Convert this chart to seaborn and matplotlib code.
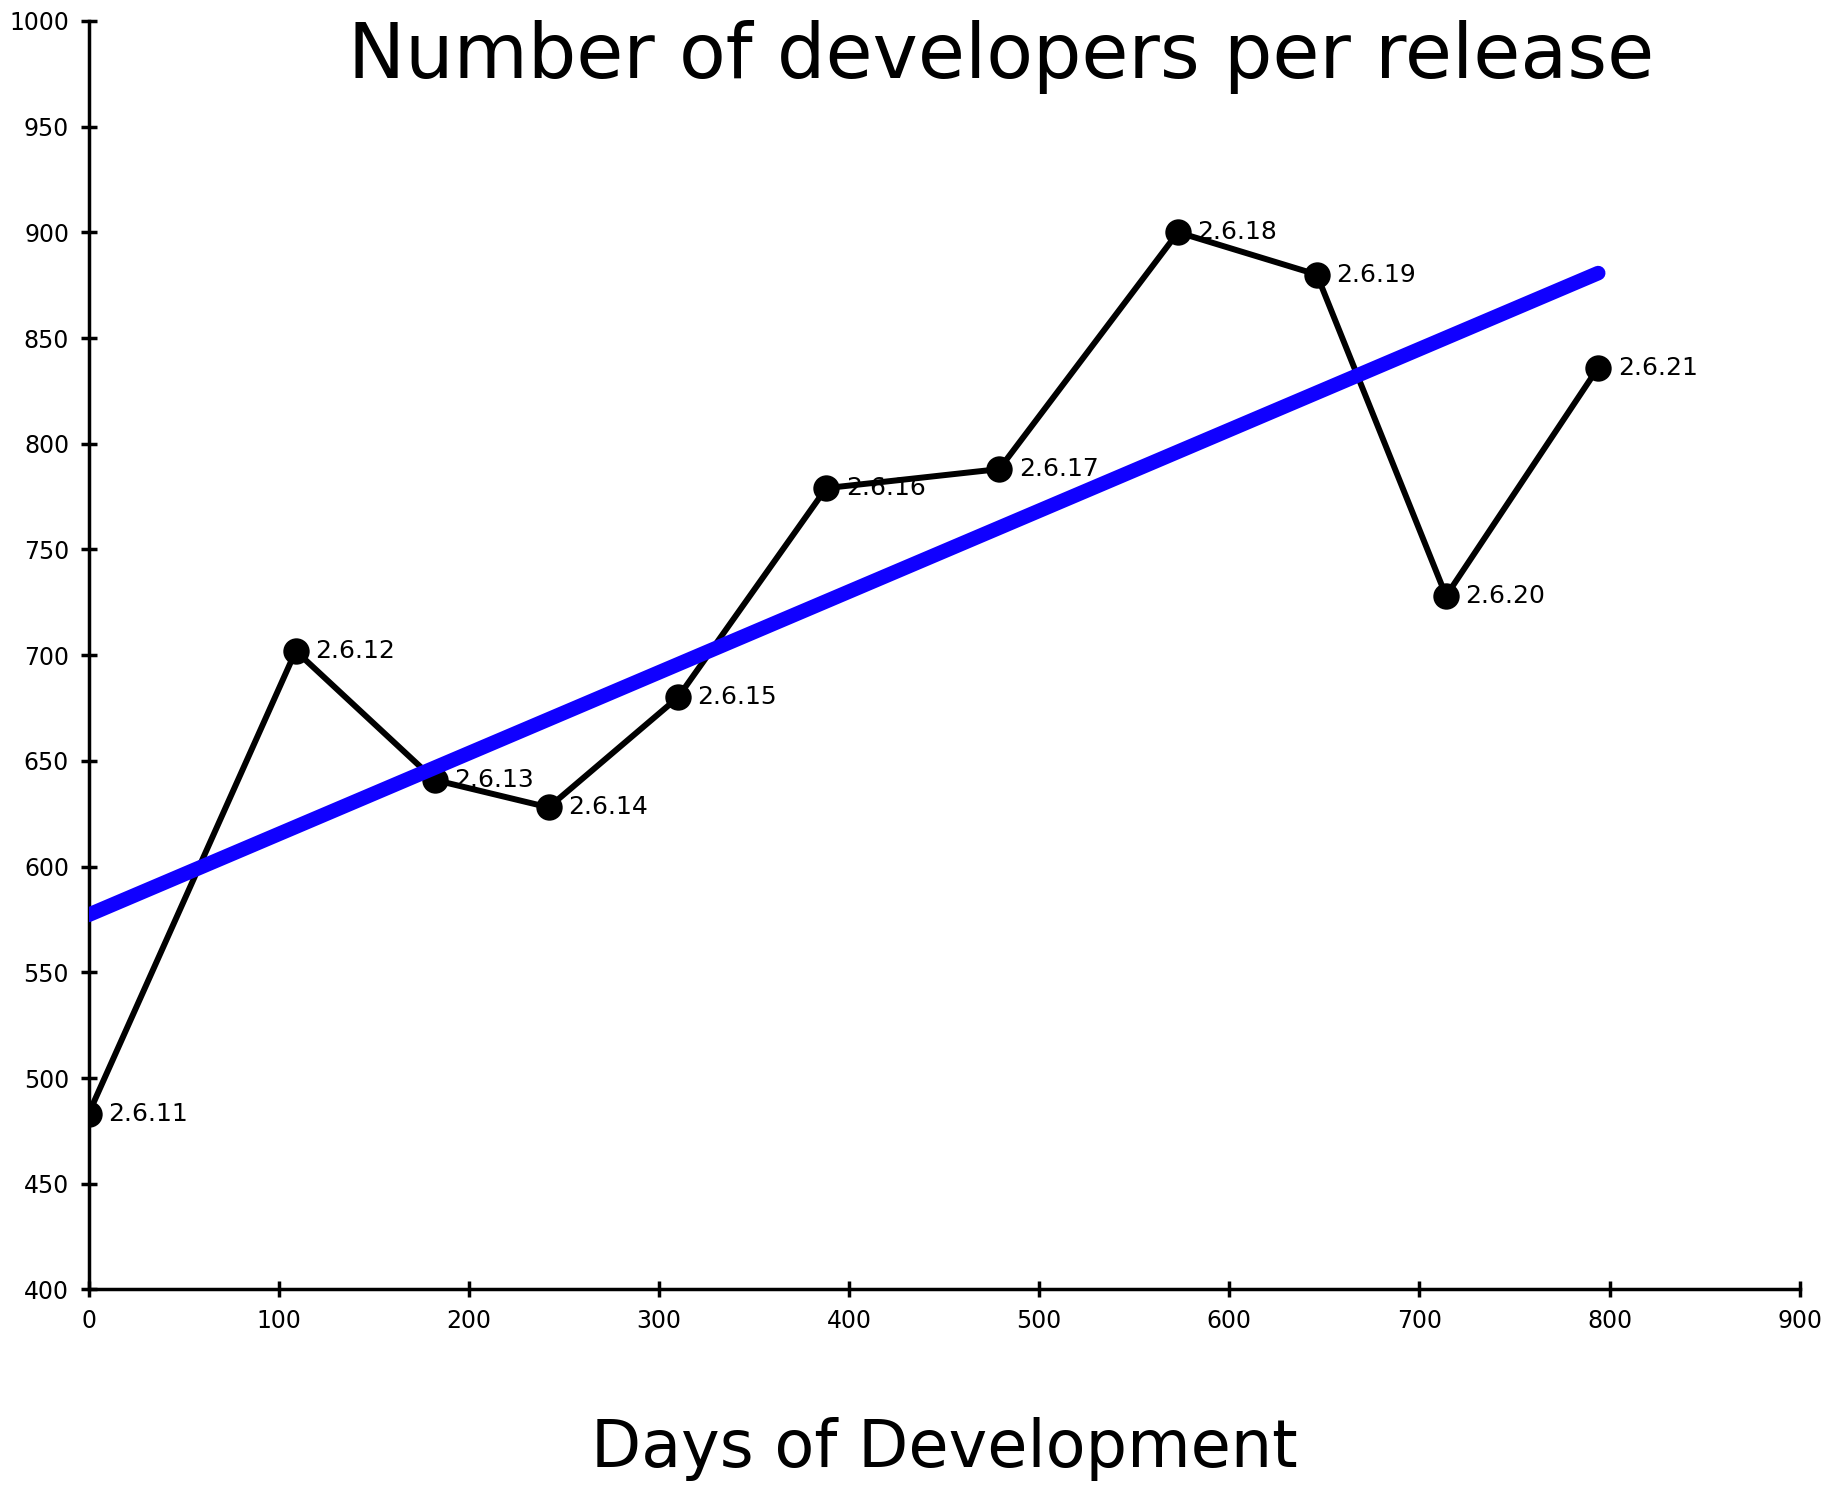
import pandas as pd
import numpy as np
import seaborn as sns
import matplotlib.pyplot as plt

# release data
releases = ["2.6.11", "2.6.12", "2.6.13", "2.6.14", "2.6.15", "2.6.16",
            "2.6.17", "2.6.18", "2.6.19", "2.6.20", "2.6.21"]
days = [0, 109, 182, 242, 310, 388, 479, 573, 646, 714, 794]
developers = [483, 702, 641, 628, 680, 779, 788, 900, 880, 728, 836]

df = pd.DataFrame({"release": releases, "days": days, "developers": developers})

sns.set_style("ticks", {"axes.edgecolor": "black", "text.color": "black",
                        "xtick.color": "black", "ytick.color": "black"})
plt.rcParams['font.family'] = ['DejaVu Sans']

fig = plt.figure(figsize=(18.44, 14.89), dpi=100)
ax = fig.add_axes([0.048, 0.134, 0.928, 0.852])

sns.lineplot(data=df, x="days", y="developers", color="black", linewidth=4.3,
             marker="o", markersize=19, markeredgewidth=0, sort=False, ax=ax, zorder=2)

# least squares trend line
sns.regplot(data=df, x="days", y="developers", scatter=False, ci=None, truncate=True,
            color="#1000ff", line_kws={"linewidth": 10.5, "zorder": 3,
                                        "solid_capstyle": "round"}, ax=ax)

for _, row in df.iterrows():
    ax.annotate(row["release"], (row["days"], row["developers"]),
                xytext=(14, 0), textcoords="offset points",
                ha="left", va="center", fontsize=18, color="black", zorder=4)

ax.set_xlim(0, 900)
ax.set_ylim(400, 1000)
ax.set_xticks(range(0, 901, 100))
ax.set_yticks(range(400, 1001, 50))
ax.tick_params(direction="inout", length=12, width=2.5, labelsize=17, pad=8)
for side in ["left", "bottom"]:
    ax.spines[side].set_linewidth(2.5)
sns.despine(ax=ax)
ax.set_xlabel("")
ax.set_ylabel("")

fig.text(0.543, 0.962, "Number of developers per release", ha="center", va="center",
         fontsize=55, color="black")
fig.text(0.512, 0.027, "Days of Development", ha="center", va="center",
         fontsize=47, color="black")

fig.savefig("out.png", dpi=100)
